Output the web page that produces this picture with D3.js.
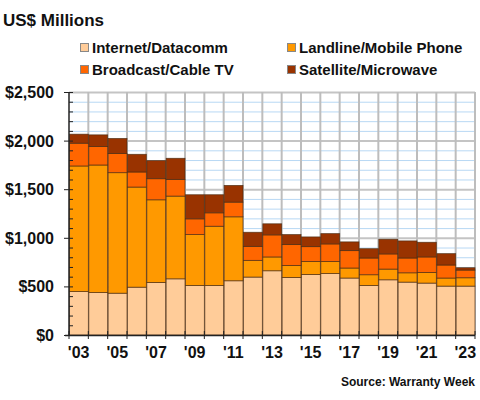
<!DOCTYPE html>
<html><head><meta charset="utf-8">
<script src="https://cdn.jsdelivr.net/npm/d3@7"></script>
<style>body{margin:0;background:#fff}svg{display:block;font-family:Arial,"Liberation Sans",sans-serif}</style>
</head><body>
<svg id="c" width="480" height="400"></svg>
<script>
const years = ["'03","'04","'05","'06","'07","'08","'09","'10","'11","'12","'13","'14","'15","'16","'17","'18","'19","'20","'21","'22","'23"];
const internet  = [447,437,430,492,541,578,510,510,558,596,661,592,623,633,586,510,568,544,534,503,503];
const landline  = [1292,1312,1240,1030,850,851,523,609,658,172,142,124,134,124,103,110,110,96,110,83,86];
const broadcast = [234,190,197,155,217,172,162,138,151,144,227,214,152,180,179,172,156,152,159,134,79];
const satellite = [93,120,155,182,186,217,248,186,172,145,114,103,100,106,90,96,151,176,151,117,24];
const seriesNames = ["Internet/Datacomm","Landline/Mobile Phone","Broadcast/Cable TV","Satellite/Microwave"];
const colors = ["#FFCC99","#FF9900","#FF6600","#993300"];
const yTicks = [0,500,1000,1500,2000,2500];
const xLabelYears = ["'03","'05","'07","'09","'11","'13","'15","'17","'19","'21","'23"];

const svg = d3.select("#c");
const L=69, R=475, T=92, B=335;
const x = d3.scaleBand().domain(years).range([L,R]).padding(0);
const y = d3.scaleLinear().domain([0,2500]).range([B,T]);

// grid
const g = svg.append("g");
g.selectAll(".minor").data(d3.range(100,2500,100).filter(v=>v%500)).join("line")
  .attr("x1",L).attr("x2",R).attr("y1",d=>y(d)+0.5).attr("y2",d=>y(d)+0.5)
  .attr("stroke","#b8d8f4").attr("stroke-width",1);
g.selectAll(".major").data(yTicks.slice(1)).join("line")
  .attr("x1",L).attr("x2",R).attr("y1",d=>y(d)+0.5).attr("y2",d=>y(d)+0.5)
  .attr("stroke","#c4c4c4").attr("stroke-width",2);
const bounds = years.map(d=>x(d)).concat([R]);
g.selectAll(".vg").data(bounds.slice(1)).join("line")
  .attr("x1",d=>d).attr("x2",d=>d).attr("y1",T).attr("y2",B)
  .attr("stroke","#bdbdbd").attr("stroke-width",2);

// stacked bars
const data = years.map((yr,i)=>({yr, s0:internet[i], s1:landline[i], s2:broadcast[i], s3:satellite[i]}));
const stack = d3.stack().keys(["s0","s1","s2","s3"])(data);
svg.append("g").selectAll("g").data(stack).join("g")
  .attr("fill",(d,i)=>colors[i])
  .selectAll("rect").data(d=>d).join("rect")
  .attr("x",d=>x(d.data.yr)+0.5).attr("width",x.bandwidth()-0.5)
  .attr("y",d=>y(d[1])).attr("height",d=>y(d[0])-y(d[1]))
  .attr("stroke","#4a2a10").attr("stroke-width",0.8).attr("stroke-opacity",0.8);

// y axis
const ax = svg.append("g");
ax.append("line").attr("x1",L).attr("x2",L).attr("y1",T).attr("y2",B+1).attr("stroke","#222").attr("stroke-width",1.5);
ax.selectAll(".mt").data(d3.range(0,2501,100)).join("line")
  .attr("x1",d=>d%500?L:L-5).attr("x2",L+4).attr("y1",d=>y(d)+0.5).attr("y2",d=>y(d)+0.5)
  .attr("stroke","#222").attr("stroke-width",1);
ax.selectAll("text").data(yTicks).join("text")
  .attr("x",54).attr("y",d=>y(d)+6).attr("text-anchor","end")
  .attr("font-size","16px").attr("font-weight","bold").attr("fill","#111")
  .text(d=>"$"+d3.format(",")(d));

// x axis
svg.append("line").attr("x1",L-4).attr("x2",R).attr("y1",B+0.5).attr("y2",B+0.5).attr("stroke","#222").attr("stroke-width",1.5);
svg.selectAll(".xt").data(bounds).join("line")
  .attr("x1",d=>d).attr("x2",d=>d).attr("y1",B-4).attr("y2",B+4).attr("stroke","#222").attr("stroke-width",1);
svg.selectAll(".xl").data(xLabelYears).join("text")
  .attr("x",d=>x(d)+x.bandwidth()/2).attr("y",B+23).attr("text-anchor","middle")
  .attr("font-size","16px").attr("font-weight","bold").attr("fill","#111").text(d=>d);

// title
svg.append("text").attr("x",3).attr("y",26).attr("font-size","17px").attr("font-weight","bold").attr("fill","#111").text("US$ Millions");

// legend
const legPos = [[80,49],[287,49],[80,71],[287,71]];
seriesNames.forEach((n,i)=>{
  const [lx,ly]=legPos[i];
  svg.append("rect").attr("x",lx+0.5).attr("y",ly-5.5).attr("width",8).attr("height",8)
    .attr("fill",colors[i]).attr("stroke","#888").attr("stroke-width",1);
  svg.append("text").attr("x",lx+12).attr("y",ly+4).attr("font-size","15px").attr("font-weight","bold").attr("fill","#111").text(n);
});

// source
svg.append("text").attr("x",475).attr("y",386).attr("text-anchor","end").attr("font-size","12px").attr("font-weight","bold").attr("fill","#111").text("Source: Warranty Week");
</script>
</body></html>
